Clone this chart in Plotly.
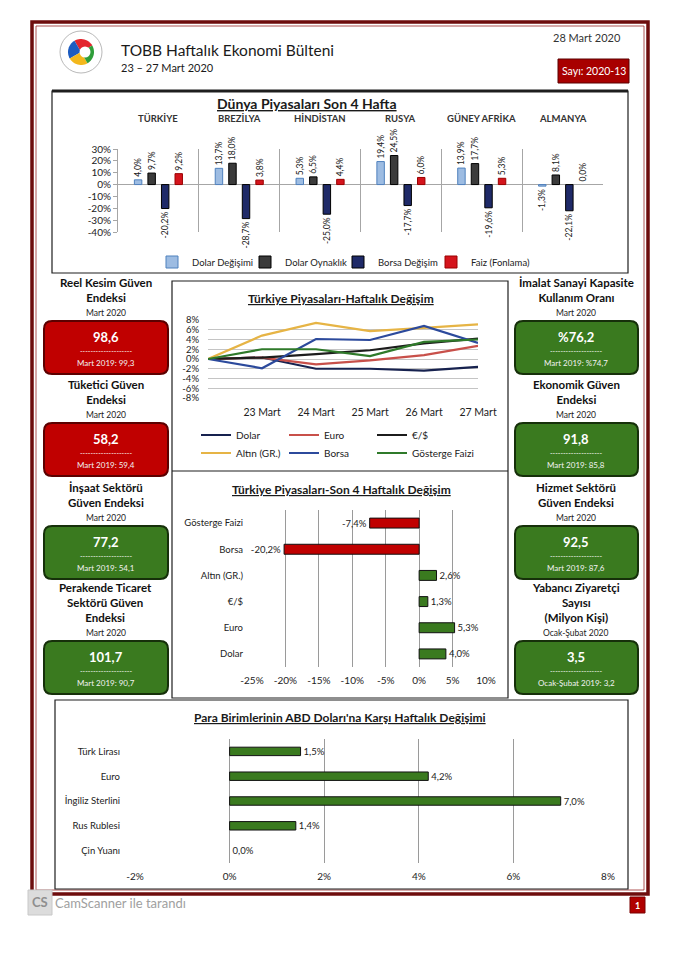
import math
import plotly.graph_objects as go

W, H = 677, 960
FONT = "Lato, 'Open Sans', sans-serif"


def X(px):
    return px / W


def Y(py):
    return 1 - py / H


def pct(v):
    return f"{v:.1f}%".replace(".", ",")


# ---------------- data ----------------
COUNTRIES = ["TÜRKİYE", "BREZİLYA", "HİNDİSTAN", "RUSYA", "GÜNEY AFRİKA", "ALMANYA"]
DOLAR_DEGISIMI = [4.0, 13.7, 5.3, 19.4, 13.9, -1.3]
DOLAR_OYNAKLIK = [9.7, 18.0, 6.5, 24.5, 17.7, 8.1]
BORSA_DEGISIM = [-20.2, -28.7, -25.0, -17.7, -19.6, -22.1]
FAIZ_FONLAMA = [9.2, 3.8, 4.4, 6.0, 5.3, 0.0]
WORLD_TICKS = [30, 20, 10, 0, -10, -20, -30, -40]

DAYS = ["", "23 Mart", "24 Mart", "25 Mart", "26 Mart", "27 Mart"]
TR_DOLAR = [0, 0.3, -2.0, -2.0, -2.4, -1.6]
TR_EURO = [0, 0.3, -1.1, -0.3, 0.8, 2.7]
TR_EURUSD = [0, 0.3, 1.0, 1.8, 3.2, 4.2]
TR_ALTIN = [0, 4.8, 7.4, 5.7, 6.4, 7.1]
TR_BORSA = [0, -1.9, 4.1, 3.9, 6.8, 3.3]
TR_GOSTERGE = [0, 2.0, 2.0, 0.6, 3.5, 4.0]
WEEK_TICKS = [8, 6, 4, 2, 0, -2, -4, -6, -8]

FOUR_WEEK_CATS = ["Gösterge Faizi", "Borsa", "Altın (GR.)", "€/$", "Euro", "Dolar"]
FOUR_WEEK_VALS = [-7.4, -20.2, 2.6, 1.3, 5.3, 4.0]
FOUR_WEEK_TICKS = [-25, -20, -15, -10, -5, 0, 5, 10]

FX_CATS = ["Türk Lirası", "Euro", "İngiliz Sterlini", "Rus Rublesi", "Çin Yuanı"]
FX_VALS = [1.5, 4.2, 7.0, 1.4, 0.0]
FX_TICKS = [-2, 0, 2, 4, 6, 8]

KPI_L_TITLES = ["Reel Kesim Güven<br>Endeksi", "Tüketici Güven<br>Endeksi",
                "İnşaat Sektörü<br>Güven Endeksi", "Perakende Ticaret<br>Sektörü Güven<br>Endeksi"]
KPI_L_PERIODS = ["Mart 2020", "Mart 2020", "Mart 2020", "Mart 2020"]
KPI_L_VALUES = ["98,6", "58,2", "77,2", "101,7"]
KPI_L_PREV = ["Mart 2019: 99,3", "Mart 2019: 59,4", "Mart 2019: 54,1", "Mart 2019: 90,7"]
KPI_L_UP = [False, False, True, True]

KPI_R_TITLES = ["İmalat Sanayi Kapasite<br>Kullanım Oranı", "Ekonomik Güven<br>Endeksi",
                "Hizmet Sektörü<br>Güven Endeksi", "Yabancı Ziyaretçi<br>Sayısı<br>(Milyon Kişi)"]
KPI_R_PERIODS = ["Mart 2020", "Mart 2020", "Mart 2020", "Ocak-Şubat 2020"]
KPI_R_VALUES = ["%76,2", "91,8", "92,5", "3,5"]
KPI_R_PREV = ["Mart 2019: %74,7", "Mart 2019: 85,8", "Mart 2019: 87,6", "Ocak-Şubat 2019: 3,2"]
KPI_R_UP = [True, True, True, True]

# ---------------- styles ----------------
RED = "#c00000"
RED_EDGE = "#5c0000"
GREEN = "#3a7a1f"
GREEN_EDGE = "#16300a"
GRID = "#9a9a9a"

fig = go.Figure()

# ---- top chart: Dünya Piyasaları ----
top_series = [
    ("Dolar Değişimi", DOLAR_DEGISIMI, "#9dbce2", "#4f81bd"),
    ("Dolar Oynaklık", DOLAR_OYNAKLIK, "#3b3b3b", "#000000"),
    ("Borsa Değişim", BORSA_DEGISIM, "#1f2a68", "#000000"),
    ("Faiz (Fonlama)", FAIZ_FONLAMA, "#d4141c", "#9a0000"),
]
for i, (name, vals, fill, edge) in enumerate(top_series):
    fig.add_trace(go.Bar(
        x=COUNTRIES, y=vals, name=name,
        marker=dict(color=fill, line=dict(color=edge, width=[0 if v == 0 else 1 for v in vals])),
        text=[pct(v) for v in vals], textposition="outside", textangle=-90,
        textfont=dict(size=8.5, color="#222"), cliponaxis=False, constraintext="none",
        xaxis="x", yaxis="y", legend="legend", hoverinfo="skip",
        legendwidth=(80 if i == len(top_series) - 1 else None)))

# ---- line chart ----
line_series = [
    ("Dolar", TR_DOLAR, "#17224f", "legend2"),
    ("Euro", TR_EURO, "#c8504a", "legend2"),
    ("€/$", TR_EURUSD, "#1c1c1c", "legend2"),
    ("Altın (GR.)", TR_ALTIN, "#e6b445", "legend3"),
    ("Borsa", TR_BORSA, "#2c4a9c", "legend3"),
    ("Gösterge Faizi", TR_GOSTERGE, "#2f7a2a", "legend3"),
]
for i, (name, vals, col, lg) in enumerate(line_series):
    fig.add_trace(go.Scatter(
        x=list(range(len(DAYS))), y=vals, name=name, mode="lines",
        line=dict(color=col, width=2.2), xaxis="x2", yaxis="y2",
        legend=lg, hoverinfo="skip",
        legendwidth=(80 if i % 3 == 2 else None)))

# ---- four-week bar chart ----
fig.add_trace(go.Bar(
    x=FOUR_WEEK_VALS, y=FOUR_WEEK_CATS, orientation="h", width=0.38,
    marker=dict(color=[RED if v < 0 else GREEN for v in FOUR_WEEK_VALS],
                line=dict(color="#111", width=1)),
    text=[pct(v) for v in FOUR_WEEK_VALS], textposition="outside",
    textfont=dict(size=9.5, color="#222"), cliponaxis=False, constraintext="none",
    xaxis="x3", yaxis="y3", showlegend=False, hoverinfo="skip"))

# ---- FX bar chart ----
fig.add_trace(go.Bar(
    x=FX_VALS, y=FX_CATS, orientation="h", width=0.34,
    marker=dict(color=GREEN, line=dict(color="#111", width=[0 if v == 0 else 1 for v in FX_VALS])),
    text=[pct(v) for v in FX_VALS], textposition="outside",
    textfont=dict(size=9.5, color="#222"), cliponaxis=False, constraintext="none",
    xaxis="x4", yaxis="y4", showlegend=False, hoverinfo="skip"))

# ---------------- shapes ----------------
shapes = []


def rect(x0, y0, x1, y1, color="#222", width=1, fill=None, layer="above"):
    shapes.append(dict(type="rect", xref="paper", yref="paper",
                       x0=X(x0), x1=X(x1), y0=Y(y0), y1=Y(y1),
                       line=dict(color=color, width=width),
                       fillcolor=fill if fill else "rgba(0,0,0,0)", layer=layer))


def hline(x0, x1, y, color="#222", width=1):
    shapes.append(dict(type="line", xref="paper", yref="paper",
                       x0=X(x0), x1=X(x1), y0=Y(y), y1=Y(y),
                       line=dict(color=color, width=width)))


def rrect(x0, y0, x1, y1, r, fill, edge, width=1.5):
    p = (f"M {X(x0 + r)},{Y(y0)} L {X(x1 - r)},{Y(y0)} Q {X(x1)},{Y(y0)} {X(x1)},{Y(y0 + r)} "
         f"L {X(x1)},{Y(y1 - r)} Q {X(x1)},{Y(y1)} {X(x1 - r)},{Y(y1)} "
         f"L {X(x0 + r)},{Y(y1)} Q {X(x0)},{Y(y1)} {X(x0)},{Y(y1 - r)} "
         f"L {X(x0)},{Y(y0 + r)} Q {X(x0)},{Y(y0)} {X(x0 + r)},{Y(y0)} Z")
    shapes.append(dict(type="path", xref="paper", yref="paper", path=p,
                       fillcolor=fill, line=dict(color=edge, width=width), layer="below"))


def sector(cx, cy, r, a0, a1, fill):
    pts = []
    n = 14
    for i in range(n + 1):
        a = math.radians(a0 + (a1 - a0) * i / n)
        pts.append((cx + r * math.cos(a), cy - r * math.sin(a)))
    p = f"M {X(cx)},{Y(cy)} " + " ".join(f"L {X(px)},{Y(py)}" for px, py in pts) + " Z"
    shapes.append(dict(type="path", xref="paper", yref="paper", path=p,
                       fillcolor=fill, line=dict(width=0), layer="above"))


def circle(cx, cy, r, fill, edge="rgba(0,0,0,0)", width=0):
    shapes.append(dict(type="circle", xref="paper", yref="paper",
                       x0=X(cx - r), x1=X(cx + r), y0=Y(cy + r), y1=Y(cy - r),
                       fillcolor=fill, line=dict(color=edge, width=width), layer="above"))


# page border
rect(32, 22, 648, 894, color="#6e0d0d", width=3.5)
rect(36, 26, 644, 890, color="#9a2a2a", width=0.8)

# logo
circle(81, 52, 21, "white", "#b9b9b9", 1)
sector(81, 52, 13, 30, 120, "#e3262d")
sector(81, 52, 13, 120, 210, "#1d5cc0")
sector(81, 52, 13, 210, 300, "#f3b81c")
sector(81, 52, 13, 300, 390, "#2f9e3a")
circle(85, 52, 5.5, "white")

# Sayı box
rect(558, 59, 629, 83, color="#5a0000", width=1, fill="#a80000")

# panels
rect(52, 91, 628, 273, color="#1e1e1e", width=1.2)
hline(52, 628, 91, color="#1e1e1e", width=3)
rect(172, 281, 508, 698, color="#1e1e1e", width=1.2)
hline(172, 508, 471, color="#1e1e1e", width=1.2)
rect(55, 700, 628, 889, color="#1e1e1e", width=1.2)

# footer
rect(28, 890, 52, 915, color="#c8c8c8", width=1, fill="#dcdcdc")
rect(630, 897, 645, 913, color="#7a0000", width=1, fill="#b00000")

# ---------------- annotations ----------------
ann = []


def txt(text, x, y, size=10, color="#222", xanchor="center", yanchor="middle", xref="paper"):
    ann.append(dict(text=text, x=(x if xref != "paper" else X(x)), y=Y(y), xref=xref, yref="paper",
                    showarrow=False, xanchor=xanchor, yanchor=yanchor,
                    font=dict(size=size, color=color, family=FONT)))


txt("TOBB Haftalık Ekonomi Bülteni", 119, 50, 15.5, "#1a1a1a", "left")
txt("23 – 27 Mart 2020", 119, 68, 11, "#1a1a1a", "left")
txt("28 Mart 2020", 623, 38, 11, "#333", "right")
txt("Sayı: 2020-13", 593.5, 71, 10.5, "white")

txt("<b><u>Dünya Piyasaları Son 4 Hafta</u></b>", 307, 103, 14, "#1a1a1a")
for c in COUNTRIES:
    txt(f"<b>{c}</b>", c, 118, 9.5, "#333", xref="x")

txt("<b><u>Türkiye Piyasaları-Haftalık Değişim</u></b>", 341, 298, 12, "#1a1a1a")
txt("<b><u>Türkiye Piyasaları-Son 4 Haftalık Değişim</u></b>", 341, 490, 12, "#1a1a1a")
txt("<b><u>Para Birimlerinin ABD Doları'na Karşı Haftalık Değişimi</u></b>", 340, 717, 12, "#1a1a1a")

BOX_TOPS = [321, 423, 526, 641]


def kpi_column(cx, x0, x1, titles, periods, values, prevs, ups):
    for i, top in enumerate(BOX_TOPS):
        txt(f"<b>{titles[i]}</b>", cx, top - 15, 11.5, "#111", yanchor="bottom")
        txt(periods[i], cx, top - 8, 8.5, "#222")
        fill, edge = (GREEN, GREEN_EDGE) if ups[i] else (RED, RED_EDGE)
        rrect(x0, top, x1, top + 53, 8, fill, edge, 2)
        txt(f"<b>{values[i]}</b>", cx, top + 16, 13, "white")
        txt("--------------------", cx, top + 30, 7, "white")
        txt(prevs[i], cx, top + 42, 8, "#f2f2f2")


kpi_column(106, 44, 168, KPI_L_TITLES, KPI_L_PERIODS, KPI_L_VALUES, KPI_L_PREV, KPI_L_UP)
kpi_column(576, 515, 638, KPI_R_TITLES, KPI_R_PERIODS, KPI_R_VALUES, KPI_R_PREV, KPI_R_UP)

txt("<b>CS</b>", 40, 902, 13, "#8f8f8f")
txt("CamScanner ile tarandı", 53, 903, 13, "#a0a0a0", "left")
txt("<b>1</b>", 637.5, 905, 9, "white")

# ---------------- layout ----------------
axis_font = dict(size=10, color="#222", family=FONT)

fig.update_layout(
    width=W, height=H, margin=dict(l=0, r=0, t=0, b=0, autoexpand=False),
    paper_bgcolor="white", plot_bgcolor="rgba(0,0,0,0)",
    font=dict(family=FONT, color="#222"),
    barmode="group", bargap=0.33, bargroupgap=0.45,
    shapes=shapes, annotations=ann,
    xaxis=dict(domain=[X(118), X(603)], anchor="y", showticklabels=False,
               tickson="boundaries", showgrid=True, gridcolor="#a6a6a6", gridwidth=1,
               ticks="", showline=False, zeroline=False, fixedrange=True),
    yaxis=dict(domain=[Y(232), Y(149)], anchor="x", range=[-40, 30],
               tickvals=WORLD_TICKS, ticktext=[f"{t}%" for t in WORLD_TICKS],
               tickfont=axis_font, showgrid=False, zeroline=True,
               zerolinecolor="#a6a6a6", zerolinewidth=1, showline=True,
               linecolor="#a6a6a6", ticks="outside", ticklen=4, tickcolor="#a6a6a6"),
    xaxis2=dict(domain=[X(208), X(478)], anchor="y2", range=[0, len(DAYS) - 1],
                tickvals=list(range(len(DAYS))), ticktext=DAYS,
                tickfont=dict(size=10.5, color="#222", family=FONT),
                showgrid=False, zeroline=False, showline=False, ticks="",
                ticklabelstandoff=6),
    yaxis2=dict(domain=[Y(398), Y(320)], anchor="x2", range=[-8, 8],
                tickvals=WEEK_TICKS, ticktext=[f"{t}%" for t in WEEK_TICKS],
                tickfont=dict(size=9.5, color="#222", family=FONT),
                showgrid=True, gridcolor="#c4c4c4", zeroline=False, showline=False,
                ticks="", ticklabelstandoff=8),
    xaxis3=dict(domain=[X(252), X(486)], anchor="y3", range=[-25, 10],
                tickvals=FOUR_WEEK_TICKS, ticktext=[f"{t}%" for t in FOUR_WEEK_TICKS],
                tickfont=axis_font, showgrid=True, gridcolor=GRID, zeroline=False,
                showline=False, ticks="", ticklabelstandoff=6),
    yaxis3=dict(domain=[Y(667), Y(510)], anchor="x3", autorange="reversed",
                tickfont=dict(size=9.5, color="#222", family=FONT), showgrid=False,
                showline=False, ticks="", ticklabelstandoff=8),
    xaxis4=dict(domain=[X(135), X(608)], anchor="y4", range=[-2, 8],
                tickvals=FX_TICKS, ticktext=[f"{t}%" for t in FX_TICKS],
                tickfont=axis_font, showgrid=True, gridcolor=GRID, zeroline=False,
                showline=False, ticks="", ticklabelstandoff=6),
    yaxis4=dict(domain=[Y(863), Y(739)], anchor="x4", autorange="reversed",
                tickfont=dict(size=9.5, color="#222", family=FONT), showgrid=False,
                showline=False, ticks="", ticklabelstandoff=14),
    legend=dict(orientation="h", x=X(152), y=Y(262), xanchor="left", yanchor="middle",
                font=dict(size=9.5, color="#222", family=FONT), bgcolor="rgba(0,0,0,0)",
                entrywidth=48, itemwidth=30),
    legend2=dict(orientation="h", x=X(196), y=Y(435), xanchor="left", yanchor="middle",
                 font=dict(size=10, color="#222", family=FONT), bgcolor="rgba(0,0,0,0)",
                 entrywidth=43, itemwidth=30),
    legend3=dict(orientation="h", x=X(196), y=Y(453), xanchor="left", yanchor="middle",
                 font=dict(size=10, color="#222", family=FONT), bgcolor="rgba(0,0,0,0)",
                 entrywidth=43, itemwidth=30),
)

fig.write_html("out.html", config={"displayModeBar": False},
               post_script="document.body.style.margin='0px';")
